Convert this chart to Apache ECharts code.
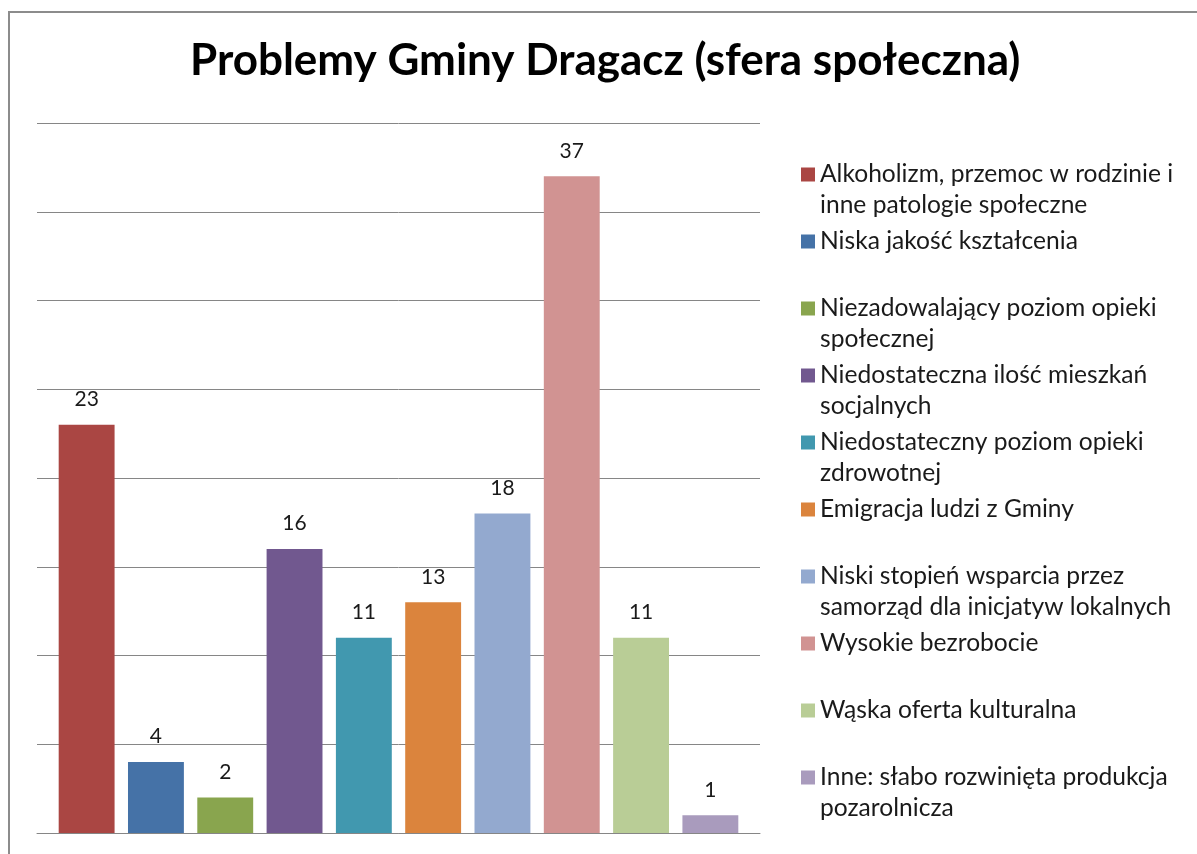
<!DOCTYPE html>
<html>
<head>
    <meta charset="UTF-8">
    <title>Problemy Gminy Dragacz</title>
    <script src="https://cdn.jsdelivr.net/npm/echarts@6/dist/echarts.min.js"></script>
    <style>
        html, body {
            margin: 0;
            padding: 0;
            background: #fff;
            overflow: hidden;
        }
        #main {
            width: 1197px;
            height: 854px;
        }
        /* ramka wykresu, wychodzi poza prawa i dolna krawedz */
        .frame {
            position: absolute;
            left: 8px;
            top: 11px;
            width: 1300px;
            height: 1000px;
            border-left: 2px solid #8c8c8c;
            border-top: 2px solid #8c8c8c;
            pointer-events: none;
        }
    </style>
</head>
<body>
<div id="main"></div>
<div class="frame"></div>

<script>
    const categories = [
        'Alkoholizm, przemoc w rodzinie i\ninne patologie społeczne',
        'Niska jakość kształcenia',
        'Niezadowalający poziom opieki\nspołecznej',
        'Niedostateczna ilość mieszkań\nsocjalnych',
        'Niedostateczny poziom opieki\nzdrowotnej',
        'Emigracja ludzi z Gminy',
        'Niski stopień wsparcia przez\nsamorząd dla inicjatyw lokalnych',
        'Wysokie bezrobocie',
        'Wąska oferta kulturalna',
        'Inne: słabo rozwinięta produkcja\npozarolnicza'
    ];
    const values = [23, 4, 2, 16, 11, 13, 18, 37, 11, 1];
    const colors = ['#aa4643', '#4572a7', '#89a54e', '#71588f', '#4198af',
        '#db843d', '#93a9cf', '#d19392', '#b9cd96', '#a99bbd'];
    const yTicks = [0, 40, 5];   // min, max, interval

    const font = 'Lato, "Open Sans", sans-serif';

    let series = categories.map(function (name, i) {
        return {
            name: name,
            type: 'bar',
            data: [values[i]],
            itemStyle: { color: colors[i] },
            barGap: '24%',
            barCategoryGap: '6%',
            label: {
                show: true,
                position: 'top',
                distance: 15,
                color: '#1a1a1a',
                fontFamily: font,
                fontSize: 21
            }
        };
    });

    let myChart = echarts.init(document.getElementById('main'));
    let option = {
        animation: false,
        color: colors,
        title: {
            text: 'Problemy Gminy Dragacz (sfera społeczna)',
            left: 190,
            top: 39,
            padding: 0,
            textStyle: {
                fontFamily: font,
                fontWeight: 'bold',
                fontSize: 44,
                color: '#000'
            }
        },
        legend: {
            orient: 'vertical',
            left: 801,
            top: 128,
            padding: 0,
            itemWidth: 14,
            itemHeight: 14,
            itemGap: -26,
            icon: 'rect',
            // trzy linie: pusta, pierwsza, druga - kwadrat stoi przy pierwszej
            formatter: function (name) {
                let parts = name.split('\n');
                return ' \n' + parts[0] + '\n' + (parts[1] || ' ');
            },
            textStyle: {
                fontFamily: font,
                fontSize: 24.6,
                lineHeight: 31,
                color: '#1a1a1a'
            },
            data: categories
        },
        grid: {
            left: 37,
            right: 437,
            top: 123,
            bottom: 21
        },
        xAxis: {
            type: 'category',
            data: [''],
            axisLine: { lineStyle: { color: '#868686', width: 1 } },
            axisTick: { show: false },
            axisLabel: { show: false }
        },
        yAxis: {
            type: 'value',
            min: yTicks[0],
            max: yTicks[1],
            interval: yTicks[2],
            axisLine: { show: false },
            axisTick: { show: false },
            axisLabel: { show: false },
            splitLine: { lineStyle: { color: '#868686', width: 1 } }
        },
        series: series
    };
    myChart.setOption(option);
</script>
</body>
</html>
